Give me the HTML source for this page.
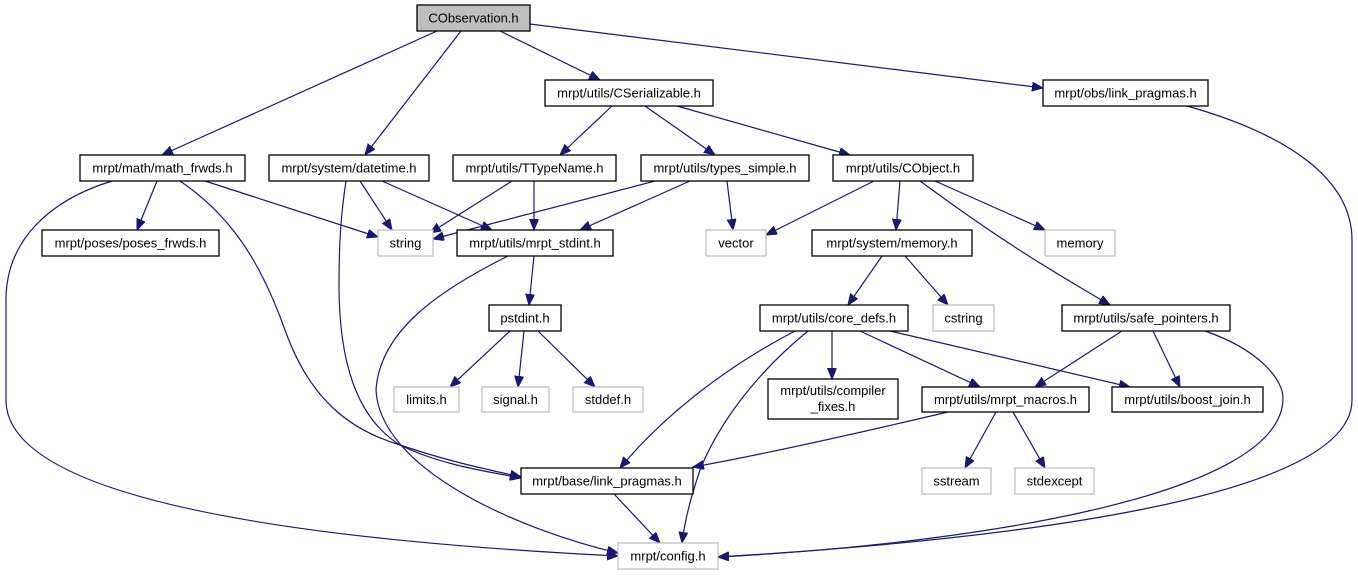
<!DOCTYPE html>
<html><head><meta charset="utf-8"><style>
html,body{margin:0;padding:0;background:#fff;}
svg{display:block;}
text{font-family:"Liberation Sans",sans-serif;font-size:13px;fill:#000;}
.b{fill:#fff;stroke:#000;stroke-width:1.3;}
.g{fill:#fff;stroke:#bfbfbf;stroke-width:1.3;}
.e{fill:none;stroke:#191970;stroke-width:1.2;marker-end:url(#a);}
</style></head><body>
<svg width="1358" height="575" viewBox="0 0 1358 575" xmlns="http://www.w3.org/2000/svg">
<defs><marker id="a" markerUnits="userSpaceOnUse" markerWidth="12" markerHeight="10" refX="11" refY="4.5" orient="auto"><path d="M0,0 L11,4.5 L0,9 z" fill="#191970" stroke="#191970"/></marker></defs>
<path class="e" d="M437,31 L162,155"/>
<path class="e" d="M461,31 L365,155"/>
<path class="e" d="M500,31 L600,80"/>
<path class="e" d="M530,24 L1043,88"/>
<path class="e" d="M612,106 L560,155"/>
<path class="e" d="M645,106 L715,155"/>
<path class="e" d="M677,106 L850,155"/>
<path class="e" d="M1187,106 C1290,135 1352,180 1352,240 L1352,400 C1352,500 1000,540 718,557"/>
<path class="e" d="M157,181 L137,230"/>
<path class="e" d="M205,181 L378,237"/>
<path class="e" d="M180,181 C230,215 260,260 285,330 C310,400 350,430 400,445 C450,462 490,470 521,477"/>
<path class="e" d="M112,181 C50,200 6,240 6,300 L6,400 C6,500 300,540 618,556"/>
<path class="e" d="M360,181 L392,230"/>
<path class="e" d="M382,181 L492,230"/>
<path class="e" d="M346,181 C340,220 339,250 339,290 C340,370 360,420 400,445 C440,465 490,472 521,478"/>
<path class="e" d="M512,181 L430,233"/>
<path class="e" d="M534,181 L534,230"/>
<path class="e" d="M655,181 L433,239"/>
<path class="e" d="M690,181 L580,230"/>
<path class="e" d="M727,181 L733,230"/>
<path class="e" d="M874,181 L766,235"/>
<path class="e" d="M900,181 L896,230"/>
<path class="e" d="M935,181 L1045,230"/>
<path class="e" d="M920,181 C1000,240 1050,270 1110,305"/>
<path class="e" d="M534,256 L529,305"/>
<path class="e" d="M508,256 C440,290 380,330 376,390 C380,470 520,530 618,553"/>
<path class="e" d="M882,256 L848,305"/>
<path class="e" d="M905,256 L948,305"/>
<path class="e" d="M510,331 L450,387"/>
<path class="e" d="M524,331 L518,387"/>
<path class="e" d="M538,331 L595,387"/>
<path class="e" d="M795,331 C720,370 660,420 620,468"/>
<path class="e" d="M808,331 C760,370 720,420 700,470 C690,500 685,520 682,543"/>
<path class="e" d="M832,331 L832,379"/>
<path class="e" d="M860,331 L980,387"/>
<path class="e" d="M890,331 L1130,387"/>
<path class="e" d="M1122,331 L1035,387"/>
<path class="e" d="M1153,331 L1180,387"/>
<path class="e" d="M1205,331 C1260,350 1283,380 1283,398 C1283,500 950,545 718,557"/>
<path class="e" d="M948,412 C850,435 760,455 693,467"/>
<path class="e" d="M996,412 L965,468"/>
<path class="e" d="M1013,412 L1045,468"/>
<path class="e" d="M614,494 L660,543"/>
<rect x="417" y="5" width="113" height="26" fill="#bfbfbf" stroke="#000" stroke-width="1.3"/><text x="473.5" y="22.5" text-anchor="middle">CObservation.h</text>
<rect class="b" x="545" y="80" width="168" height="26"/><text x="629" y="97.5" text-anchor="middle">mrpt/utils/CSerializable.h</text>
<rect class="b" x="1043" y="80" width="165" height="26"/><text x="1125.5" y="97.5" text-anchor="middle">mrpt/obs/link_pragmas.h</text>
<rect class="b" x="80" y="155" width="165" height="26"/><text x="162.5" y="172.5" text-anchor="middle">mrpt/math/math_frwds.h</text>
<rect class="b" x="269" y="155" width="160" height="26"/><text x="349" y="172.5" text-anchor="middle">mrpt/system/datetime.h</text>
<rect class="b" x="453" y="155" width="163" height="26"/><text x="534.5" y="172.5" text-anchor="middle">mrpt/utils/TTypeName.h</text>
<rect class="b" x="641" y="155" width="168" height="26"/><text x="725" y="172.5" text-anchor="middle">mrpt/utils/types_simple.h</text>
<rect class="b" x="833" y="155" width="140" height="26"/><text x="903" y="172.5" text-anchor="middle">mrpt/utils/CObject.h</text>
<rect class="b" x="42" y="230" width="177" height="26"/><text x="130.5" y="247.5" text-anchor="middle">mrpt/poses/poses_frwds.h</text>
<rect class="g" x="378" y="230" width="55" height="26"/><text x="405.5" y="247.5" text-anchor="middle">string</text>
<rect class="b" x="457" y="230" width="156" height="26"/><text x="535" y="247.5" text-anchor="middle">mrpt/utils/mrpt_stdint.h</text>
<rect class="g" x="706" y="230" width="60" height="26"/><text x="736" y="247.5" text-anchor="middle">vector</text>
<rect class="b" x="812" y="230" width="160" height="26"/><text x="892" y="247.5" text-anchor="middle">mrpt/system/memory.h</text>
<rect class="g" x="1045" y="230" width="70" height="26"/><text x="1080" y="247.5" text-anchor="middle">memory</text>
<rect class="b" x="489" y="305" width="72" height="26"/><text x="525" y="322.5" text-anchor="middle">pstdint.h</text>
<rect class="b" x="760" y="305" width="148" height="26"/><text x="834" y="322.5" text-anchor="middle">mrpt/utils/core_defs.h</text>
<rect class="g" x="933" y="305" width="61" height="26"/><text x="963.5" y="322.5" text-anchor="middle">cstring</text>
<rect class="b" x="1062" y="305" width="168" height="26"/><text x="1146" y="322.5" text-anchor="middle">mrpt/utils/safe_pointers.h</text>
<rect class="g" x="394" y="387" width="65" height="25"/><text x="426.5" y="404" text-anchor="middle">limits.h</text>
<rect class="g" x="482" y="387" width="67" height="25"/><text x="515.5" y="404" text-anchor="middle">signal.h</text>
<rect class="g" x="573" y="387" width="70" height="25"/><text x="608" y="404" text-anchor="middle">stddef.h</text>
<rect class="b" x="768" y="379" width="130" height="40"/><text x="833" y="395" text-anchor="middle">mrpt/utils/compiler</text><text x="833" y="411" text-anchor="middle">_fixes.h</text>
<rect class="b" x="922" y="387" width="167" height="25"/><text x="1005.5" y="404" text-anchor="middle">mrpt/utils/mrpt_macros.h</text>
<rect class="b" x="1112" y="387" width="151" height="25"/><text x="1187.5" y="404" text-anchor="middle">mrpt/utils/boost_join.h</text>
<rect class="b" x="521" y="468" width="172" height="26"/><text x="607" y="485.5" text-anchor="middle">mrpt/base/link_pragmas.h</text>
<rect class="g" x="922" y="468" width="69" height="26"/><text x="956.5" y="485.5" text-anchor="middle">sstream</text>
<rect class="g" x="1015" y="468" width="79" height="26"/><text x="1054.5" y="485.5" text-anchor="middle">stdexcept</text>
<rect class="g" x="618" y="543" width="100" height="26"/><text x="668" y="560.5" text-anchor="middle">mrpt/config.h</text>
</svg>
</body></html>
